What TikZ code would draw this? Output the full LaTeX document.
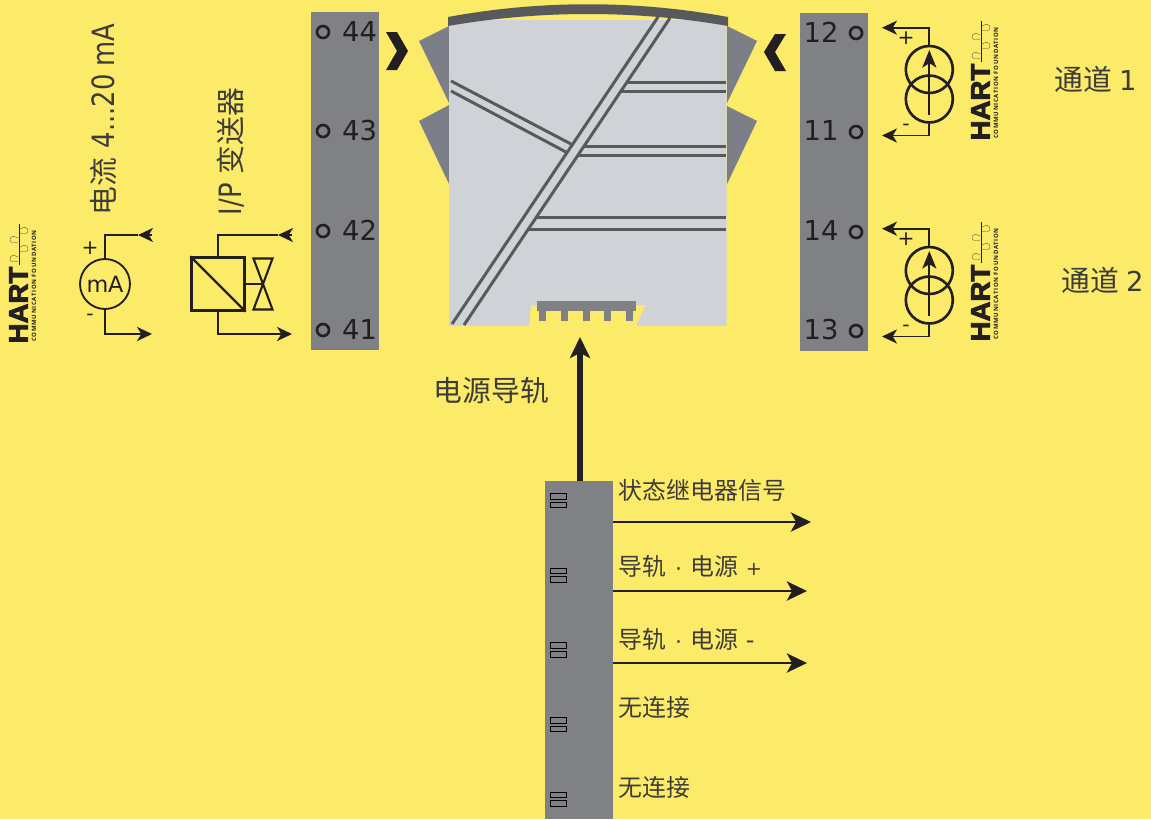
\documentclass[tikz,border=0pt]{standalone}
\usepackage{fontspec}
\setmainfont{DejaVu Sans}
\newfontfamily\cjk{Noto Sans CJK SC}
\newfontfamily\hartbig[BoldFeatures={FakeBold=3}]{Liberation Sans}
\newfontfamily\hartsmall[LetterSpace=12]{Open Sans}
\usetikzlibrary{arrows.meta}
\definecolor{bgyel}{HTML}{FCEB68}
\definecolor{stripgr}{HTML}{808184}
\definecolor{bodygr}{HTML}{CFD2D6}
\definecolor{wingc}{HTML}{7C7F87}
\definecolor{raild}{HTML}{58595B}
\definecolor{inkc}{HTML}{231F20}
\definecolor{softc}{HTML}{3E3C3A}
\newcommand{\railsep}{\makebox[1em]{\hartbig ·}}
\newcommand{\narrowtxt}[1]{\scalebox{.84}[1]{\fontsize{17.5}{20}\selectfont #1}}
\newcommand{\chandigit}[1]{\hspace{4pt}{\fontsize{15.6}{18}\selectfont #1}}
\tikzset{
  strip/.style={fill=stripgr,minimum width=1.36cm,minimum height=6.76cm,inner sep=0pt},
  port/.style={circle,draw=inkc,line width=1.5pt,minimum size=0.24cm,inner sep=0pt},
  portnum/.style={text=inkc,inner sep=0pt,font=\fontsize{15.6}{18}\selectfont},
  signtxt/.style={text=inkc,inner sep=0pt,font=\fontsize{11.5}{14}\selectfont},
  txt/.style={text=softc,inner sep=0pt,font=\fontsize{16.4}{19}\selectfont},
  smalltxt/.style={text=softc,inner sep=0pt,anchor=west,font=\fontsize{13.6}{16}\selectfont},
  wire/.style={draw=inkc,line width=1.05pt},
  wirehead/.style={wire,-{Stealth[length=8.5pt,width=8pt,inset=2.4pt]}},
  outarrow/.style={draw=inkc,line width=1.1pt,-{Stealth[length=11.5pt,width=11pt,inset=3pt]}},
  railline/.style={draw=raild,line width=1.7pt},
  slot/.style={draw=black,fill=stripgr,line width=0.6pt,minimum width=0.31cm,minimum height=0.11cm,inner sep=0pt},
  hartlogo/.pic={
    \draw[inkc,line width=0.5pt] (0,-121) -- (0,-80);
    \foreach \y/\s in {-114/1,-96/1,-105/-1,-86/-1}
      \draw[inkc!70!bgyel,line width=0.22pt] (\s*1,\y-2) .. controls (\s*5,\y-4.5) and (\s*9,\y-4) .. (\s*9,\y) .. controls (\s*9,\y+3) and (\s*5,\y+3) .. (\s*1,\y+2);
    \node[rotate=90,text=inkc,inner sep=0pt,xscale=1.02,font=\hartbig\bfseries\fontsize{15.4}{16}\selectfont] (name) at (-0.5,-40) {HART};
    \node[rotate=90,text=inkc,inner sep=0pt,font=\hartsmall\bfseries\fontsize{3.4}{4}\selectfont] (sub) at (15,-59) {COMMUNICATION FOUNDATION};
  }
}
\begin{document}
\begin{tikzpicture}[x=0.02cm,y=-0.02cm,line cap=butt,line join=miter]
\fill[bgyel] (0,0) rectangle (1151,819);
\useasboundingbox (0,0) rectangle (1151,819);
% terminal strips
\node[strip] (stripL) at (345,181) {};
\node[strip] (stripR) at (834,182) {};
\node[strip] (stripB) at (579,650) {};
\foreach \y/\t in {32/44,131/43,231/42,330/41} {
  \node[port] (p\t) at (323,\y) {};
  \node[portnum] (n\t) at (359.5,\y-0.5) {\t};
}
\foreach \y/\t in {33/12,132/11,232/14,331/13} {
  \node[port] (p\t) at (856,\y) {};
  \node[portnum] (n\t) at (821,\y-1) {\t};
}
\foreach \n/\y in {1/500.7,2/575.3,3/650,4/724.7,5/799.3} {
  \node[slot] (sa\n) at (558.3,\y-4.3) {};
  \node[slot] (sb\n) at (558.3,\y+4.3) {};
}
% housing
\fill[wingc] (449,26) -- (419,41) -- (449,103) -- cycle;
\fill[wingc] (449,105) -- (419,121) -- (449,184) -- cycle;
\fill[wingc] (727,26) -- (757,41) -- (727,103) -- cycle;
\fill[wingc] (727,106) -- (757,121) -- (727,184) -- cycle;
\fill[bodygr] (449,20) -- (726.5,20) -- (726.5,325.5) -- (636,325.5) -- (646,305) -- (531,305) -- (529,325.5) -- (449,325.5) -- cycle;
\fill[bgyel] (440,0) -- (440,20) -- (448,17) .. controls (540,0) and (636,0) .. (728,17) -- (736,20) -- (736,0) -- cycle;
\fill[raild] (448,17) .. controls (540,0) and (636,0) .. (728,17) -- (728,26) .. controls (636,10) and (540,10) .. (448,26) -- cycle;
\draw[railline] (658,17) -- (452,324);
\draw[railline] (670,18) -- (464,325);
\draw[railline] (451,81) -- (571,144);
\draw[railline] (451,91) -- (566,152);
\foreach \y/\x in {82.5/628,91/621,146/584,155/577,217.5/537,229/528}
  \draw[railline] (\x,\y) -- (726,\y);
\fill[stripgr] (537,301) rectangle (636,311);
\foreach \x in {539,561,583,604,626}
  \fill[stripgr] (\x,310) rectangle (\x+7,321);
% chevrons
\fill[inkc] (386,32) -- (397,32) -- (408,51) -- (397,70) -- (386,70) -- (397,51) -- cycle;
\fill[inkc] (786,34) -- (775,34) -- (764,52) -- (775,71) -- (786,71) -- (775,52) -- cycle;
% power rail
\coordinate (railTip) at (580,337);
\draw[inkc,line width=2.9pt,-{Stealth[length=12pt,width=11.5pt,inset=3pt]}] (stripB.north -| railTip) -- (railTip);
\node[txt,anchor=west] (railLabel) at (433.5,391) {\cjk 电源导轨};
% outputs
\coordinate (out1) at (811,522);
\coordinate (out2) at (807,591);
\coordinate (out3) at (807,663);
\foreach \n in {1,2,3}
  \draw[outarrow] (stripB.east |- out\n) -- (out\n);
\node[smalltxt] (lab1) at (618.5,490) {\cjk 状态继电器信号};
\node[smalltxt] (lab2) at (618.5,566) {{\cjk 导轨\railsep 电源} {\fontsize{11}{16}\selectfont +}};
\node[smalltxt] (lab3) at (618.5,639) {{\cjk 导轨\railsep 电源} -};
\node[smalltxt] (lab4) at (618,707) {\cjk 无连接};
\node[smalltxt] (lab5) at (618,787) {\cjk 无连接};
% mA meter
\node[circle,wire,minimum size=1cm,inner sep=0pt,text=inkc,font=\fontsize{12.7}{16}\selectfont] (meter) at (105,284) {mA};
\coordinate (mTopH) at (138,235);
\coordinate (mTopT) at (152,235);
\coordinate (mBot) at (152,334);
\draw[wire] (meter.north) |- (mTopH);
\draw[wirehead] (mTopT) -- (mTopH);
\draw[wirehead] (meter.south) |- (mBot);
\node[signtxt] (mPlus) at (90,248) {+};
\node[signtxt] (mMinus) at (90,317) {-};
\node[txt,rotate=90,anchor=west] (mLabel) at (104,215.5) {{\cjk 电流} \narrowtxt{4...20 mA}};
% I/P converter
\node[draw=inkc,line width=1.6pt,minimum size=1.05cm,inner sep=0pt] (conv) at (218,284) {};
\draw[draw=inkc,line width=1.4pt] (conv.north west) -- (conv.south east);
\coordinate (cTopH) at (278,235);
\coordinate (cTopT) at (292,235);
\coordinate (cBot) at (292,334);
\draw[wire] (conv.north) |- (cTopH);
\draw[wirehead] (cTopT) -- (cTopH);
\draw[wirehead] (conv.south) |- (cBot);
\coordinate (valve) at (263,284);
\draw[wire] (conv.east) -- (valve);
\draw[wire,line width=1.2pt] (valve) -- (253.5,258.5) -- (272.5,258.5) -- cycle;
\draw[wire,line width=1.2pt] (valve) -- (253.5,309.5) -- (272.5,309.5) -- cycle;
\node[txt,rotate=90,anchor=west] (cLabel) at (231,215.5) {\narrowtxt{I/P} {\cjk 变送器}};
% current sources
\foreach \k/\d in {A/0,B/201} {
  \node[circle,draw=inkc,line width=1.5pt,minimum size=0.94cm,inner sep=0pt] (top\k) at (929.3,69.5+\d) {};
  \node[circle,draw=inkc,line width=1.5pt,minimum size=0.94cm,inner sep=0pt] (bot\k) at (929.3,99+\d) {};
  \coordinate (from\k) at (929.3,115+\d);
  \coordinate (to\k) at (929.3,50+\d);
  \coordinate (outT\k) at (882,27.7+\d);
  \coordinate (outB\k) at (882,135.5+\d);
  \draw[wire,line width=1.2pt,-{Stealth[length=10pt,width=8pt,inset=2.5pt]}] (from\k) -- (to\k);
  \draw[wirehead] (top\k.north) |- (outT\k);
  \draw[wirehead] (bot\k.south) |- (outB\k);
  \node[signtxt] (plus\k) at (906,37.7+\d) {+};
  \node[signtxt] (minus\k) at (906,127.7+\d) {-};
}
\node[txt,anchor=west] (chan1) at (1054,79) {{\cjk 通道}\chandigit{1}};
\node[txt,anchor=west] (chan2) at (1061,280) {{\cjk 通道}\chandigit{2}};
% logos
\pic (hartA) at (19,345) {hartlogo};
\pic (hartB) at (981,142) {hartlogo};
\pic (hartC) at (981,343) {hartlogo};
\end{tikzpicture}
\end{document}
